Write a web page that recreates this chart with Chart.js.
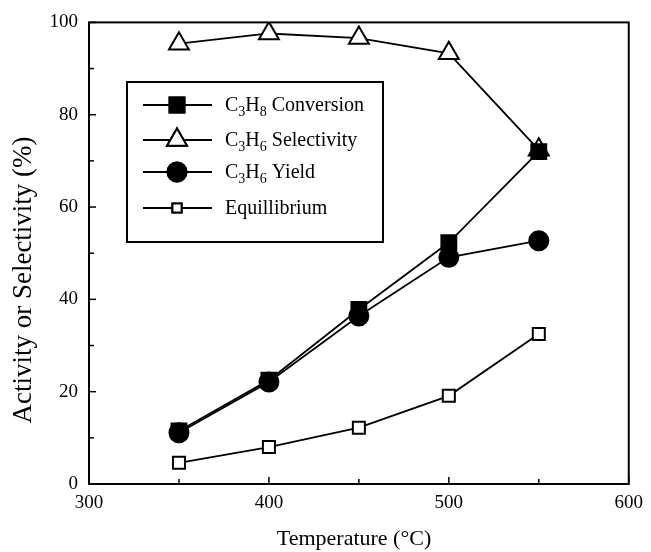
<!DOCTYPE html>
<html>
<head>
<meta charset="utf-8">
<script src="https://cdn.jsdelivr.net/npm/chart.js@4.4.1/dist/chart.umd.min.js"></script>
<style>
  html, body { margin: 0; padding: 0; background: #fff; }
  #wrap { position: relative; width: 651px; height: 552px; }
</style>
</head>
<body>
<div id="wrap"><canvas id="chart" width="651" height="552"></canvas></div>
<script>
// Temperature (°C)
const temperatures = [350, 400, 450, 500, 550];
const conversion = [11.5, 22.5, 37.8, 52.3, 72.0];
const selectivity = [95.4, 97.6, 96.6, 93.3, 72.4];
const yieldC3H6 = [11.1, 22.1, 36.4, 49.1, 52.7];
const equilibrium = [4.6, 8.0, 12.2, 19.1, 32.5];
const xTicks = [300, 400, 500, 600];
const yTicks = [0, 20, 40, 60, 80, 100];
const xTitle = 'Temperature (\u00B0C)';
const yTitle = 'Activity or Selectivity (%)';

// legend rows: [base, sub, base, sub, rest]
const legendRows = [
    ['C', '3', 'H', '8', ' Conversion'],
    ['C', '3', 'H', '6', ' Selectivity'],
    ['C', '3', 'H', '6', ' Yield'],
    ['Equillibrium']
];

const serif = '"Liberation Serif", "DejaVu Serif", serif';

function series(label, data, style, radius, filled) {
    return {
        label: label,
        data: temperatures.map((t, i) => ({ x: t, y: data[i] })),
        borderColor: '#000',
        borderWidth: 1.8,
        pointStyle: style,
        pointRadius: radius,
        pointBorderWidth: 2,
        pointBorderColor: '#000',
        pointBackgroundColor: filled ? '#000' : '#fff',
        tension: 0
    };
}

const datasets = [
    series('Equillibrium', equilibrium, 'rect', 8.5, false),
    series('C3H8 Conversion', conversion, 'rect', 10.5, true),
    series('C3H6 Yield', yieldC3H6, 'circle', 9.5, true),
    series('C3H6 Selectivity', selectivity, 'triangle', 11.5, false)
];

// frame, inward ticks, axis titles and legend box
const framePlugin = {
    id: 'frame',
    afterDatasetsDraw(chart) {
        const ctx = chart.ctx;
        const a = chart.chartArea;
        const xs = chart.scales.x, ys = chart.scales.y;
        ctx.save();
        ctx.strokeStyle = '#000';
        ctx.lineWidth = 2;
        ctx.strokeRect(a.left, a.top, a.right - a.left, a.bottom - a.top);
        ctx.lineWidth = 1.5;
        for (let v = 0; v <= 100; v += 10) {
            const y = ys.getPixelForValue(v);
            ctx.beginPath();
            ctx.moveTo(a.left, y);
            ctx.lineTo(a.left + (v % 20 === 0 ? 7 : 5), y);
            ctx.stroke();
        }
        for (let v = 300; v <= 600; v += 50) {
            const x = xs.getPixelForValue(v);
            ctx.beginPath();
            ctx.moveTo(x, a.bottom);
            ctx.lineTo(x, a.bottom - (v % 100 === 0 ? 7 : 5));
            ctx.stroke();
        }

        // axis titles
        ctx.fillStyle = '#000';
        ctx.textAlign = 'center';
        ctx.textBaseline = 'middle';
        ctx.font = '22px ' + serif;
        ctx.fillText(xTitle, 354, 539);
        ctx.save();
        ctx.translate(24, 280);
        ctx.rotate(-Math.PI / 2);
        ctx.font = '27px ' + serif;
        ctx.fillText(yTitle, 0, 0);
        ctx.restore();
        ctx.textAlign = 'left';

        // legend
        const box = { l: 127, t: 82, r: 383, b: 242 };
        ctx.fillStyle = '#fff';
        ctx.fillRect(box.l, box.t, box.r - box.l, box.b - box.t);
        ctx.lineWidth = 2;
        ctx.strokeRect(box.l, box.t, box.r - box.l, box.b - box.t);
        const rowY = [105, 140, 172, 208];
        const order = [1, 3, 2, 0];
        order.forEach((di, i) => {
            const ds = chart.data.datasets[di];
            const y = rowY[i];
            ctx.strokeStyle = '#000';
            ctx.lineWidth = 1.8;
            ctx.beginPath();
            ctx.moveTo(143, y);
            ctx.lineTo(212, y);
            ctx.stroke();
            ctx.fillStyle = ds.pointBackgroundColor;
            ctx.lineWidth = 2;
            const r = di === 0 ? 6.5 : (di === 3 ? 11.5 : ds.pointRadius);
            Chart.helpers.drawPoint(ctx, { pointStyle: ds.pointStyle, radius: r, rotation: 0, borderWidth: 2 }, 177, y);
            ctx.fill();
            ctx.stroke();

            // text with subscripts
            let x = 225;
            ctx.fillStyle = '#000';
            ctx.textBaseline = 'alphabetic';
            const parts = legendRows[i];
            parts.forEach((p, k) => {
                const isSub = parts.length > 1 && (k === 1 || k === 3);
                ctx.font = (isSub ? '14px ' : '20px ') + serif;
                ctx.fillText(p, x, y + (isSub ? 11 : 6));
                x += ctx.measureText(p).width;
            });
        });
        ctx.restore();
    }
};

const chart = new Chart(document.getElementById('chart'), {
    type: 'line',
    data: { datasets: datasets },
    options: {
        responsive: false,
        animation: false,
        layout: { padding: { left: 0, right: 19, top: 21, bottom: 0 } },
        plugins: { legend: { display: false }, tooltip: { enabled: false } },
        scales: {
            x: {
                type: 'linear',
                min: 300,
                max: 600,
                afterBuildTicks: s => { s.ticks = xTicks.map(v => ({ value: v })); },
                afterFit: s => { s.height = 68; },
                grid: { display: false, drawTicks: false },
                border: { display: false },
                ticks: { color: '#000', font: { family: serif, size: 19 }, padding: 8 },
                title: { display: false }
            },
            y: {
                min: 0,
                max: 100,
                afterBuildTicks: s => { s.ticks = yTicks.map(v => ({ value: v })); },
                afterFit: s => { s.width = 89; },
                grid: { display: false, drawTicks: false },
                border: { display: false },
                ticks: { color: '#000', font: { family: serif, size: 19 }, padding: 11 },
                title: { display: false }
            }
        }
    },
    plugins: [framePlugin]
});
</script>
</body>
</html>
